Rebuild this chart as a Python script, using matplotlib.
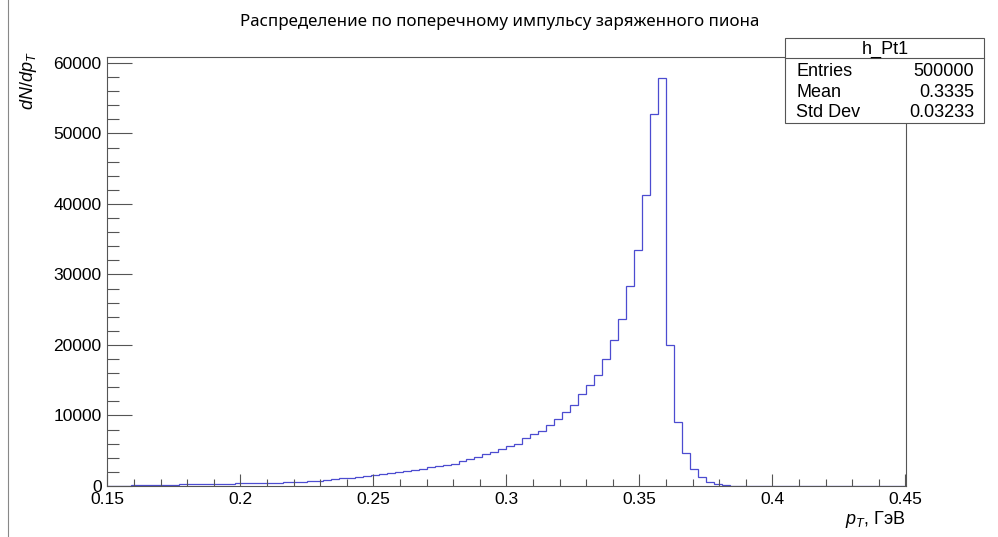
import matplotlib
matplotlib.use("Agg")
import matplotlib.pyplot as plt
from matplotlib.lines import Line2D
from matplotlib.patches import Rectangle
import numpy as np

plt.rcParams['font.family'] = ['Liberation Sans', 'DejaVu Sans']
plt.rcParams['mathtext.fontset'] = 'custom'
plt.rcParams['mathtext.rm'] = 'Liberation Sans'
plt.rcParams['mathtext.it'] = 'Liberation Sans:italic'

# histogram h_Pt1: 100 bins from 0.15 to 0.45 GeV
pt_lo = 0.15
pt_hi = 0.45
n_bins = 100

counts = [
    20, 40, 60, 90, 100, 120, 150, 160, 190, 230,
    240, 260, 280, 300, 320, 330, 370, 420, 430, 440,
    450, 490, 520, 560, 610, 680, 750, 870, 990, 1080,
    1100, 1310, 1350, 1500, 1690, 1830, 1970, 2110, 2250, 2390,
    2630, 2820, 2960, 3190, 3570, 3800, 4130, 4600, 4880, 5260,
    5630, 6010, 6810, 7320, 7790, 8690, 9530, 10520, 11550, 13010,
    14380, 15800, 17960, 20750, 23720, 28390, 33520, 41260, 52700, 57900,
    20040, 9100, 4620, 2400, 1270, 570, 240, 100, 30, 0,
    0, 0, 0, 0, 0, 0, 0, 0, 0, 0,
    0, 0, 0, 0, 0, 0, 0, 0, 0, 0,
]

x_ticks = [0.15, 0.2, 0.25, 0.3, 0.35, 0.4, 0.45]
x_tick_labels = ['0.15', '0.2', '0.25', '0.3', '0.35', '0.4', '0.45']
y_ticks = [0, 10000, 20000, 30000, 40000, 50000, 60000]

stats_name = 'h_Pt1'
stats_keys = ['Entries', 'Mean', 'Std Dev']
stats_vals = ['500000', '0.3335', '0.03233']

title = 'Распределение по поперечному импульсу заряженного пиона'

W, H = 998, 537
fig = plt.figure(figsize=(W / 100, H / 100), dpi=100)
ax = fig.add_axes([107.3 / W, 1 - 486 / H, (905.5 - 107.3) / W, (486 - 57.3) / H])

edges = np.linspace(pt_lo, pt_hi, n_bins + 1)
ax.stairs(counts, edges, color='#4c4cd0', lw=0.9)

ax.set_xlim(pt_lo, pt_hi)
ax.set_ylim(0, 1.05 * max(counts))

frame_col = '#555555'
for s in ax.spines.values():
    s.set_color(frame_col)
    s.set_linewidth(0.8)

ax.set_xticks(x_ticks)
ax.set_xticklabels(x_tick_labels)
ax.set_xticks(np.arange(0.15, 0.4501, 0.01), minor=True)
ax.set_yticks(y_ticks)
ax.set_yticks(np.arange(0, 60001, 2000), minor=True)

ax.tick_params(axis='both', which='both', direction='in', color=frame_col,
               width=0.8, labelsize=12.5)
ax.tick_params(axis='y', which='major', length=18, pad=4)
ax.tick_params(axis='y', which='minor', length=8.6)
ax.tick_params(axis='x', which='major', length=9, pad=4.5)
ax.tick_params(axis='x', which='minor', length=5)

# axis titles
ax.text(1.0, -0.078, r'$p_{T}$, ГэВ', transform=ax.transAxes,
        ha='right', va='center', fontsize=13)
fig.text(28.5 / W, 1 - 52 / H, r'$dN/dp_{T}$', rotation=90,
         ha='center', va='top', fontsize=13)

# title
fig.text(500 / W, 1 - 22 / H, title, ha='center', va='center',
         fontsize=12.2, family=['Noto Sans', 'DejaVu Sans'])

# stats box
bx0, bx1, by0, by1, bdiv = 785, 984.3, 38.3, 123.3, 58.3
fig.patches.append(Rectangle((bx0 / W, 1 - by1 / H), (bx1 - bx0) / W,
                             (by1 - by0) / H, transform=fig.transFigure,
                             facecolor='white', edgecolor=frame_col, lw=0.8,
                             zorder=5))
fig.lines.append(Line2D([bx0 / W, bx1 / W], [1 - bdiv / H, 1 - bdiv / H],
                        transform=fig.transFigure, color=frame_col, lw=0.8,
                        zorder=6))
fig.text(885 / W, 1 - 49 / H, stats_name, ha='center', va='center',
         fontsize=13, zorder=7)
row_y = [71.5, 92.5, 113]
for key, val, yy in zip(stats_keys, stats_vals, row_y):
    fig.text(796.5 / W, 1 - yy / H, key, ha='left', va='center',
             fontsize=13, zorder=7)
    fig.text(974 / W, 1 - yy / H, val, ha='right', va='center',
             fontsize=13, zorder=7)

# canvas border line on the left
fig.lines.append(Line2D([7.5 / W, 7.5 / W], [0, 1], transform=fig.transFigure,
                        color='#888888', lw=0.8))

fig.savefig('out.png', dpi=100)
